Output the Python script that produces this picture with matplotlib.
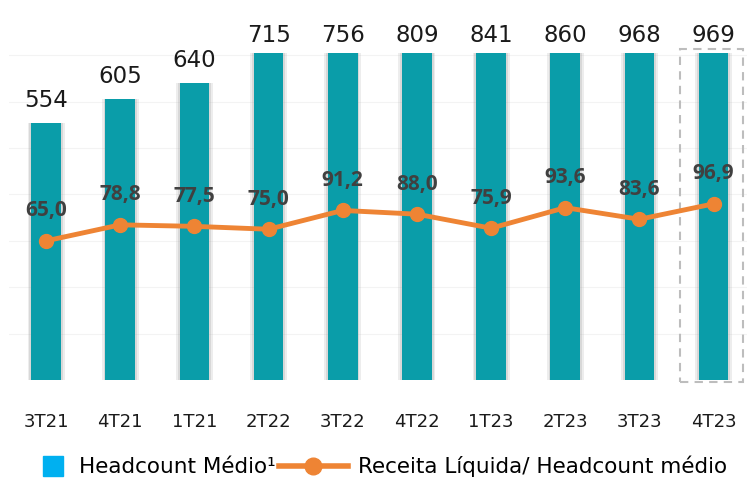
import matplotlib
matplotlib.use("Agg")
import matplotlib.pyplot as plt
from matplotlib.patches import Rectangle
from matplotlib.lines import Line2D

# dados
trimestres = ["3T21", "4T21", "1T21", "2T22", "3T22", "4T22", "1T23", "2T23", "3T23", "4T23"]
headcount = [554, 605, 640, 715, 756, 809, 841, 860, 968, 969]
receita_hc = [65.0, 78.8, 77.5, 75.0, 91.2, 88.0, 75.9, 93.6, 83.6, 96.9]

cor_barra = "#0A9DA9"
cor_linha = "#EE8434"
ymax = 705

fig = plt.figure(figsize=(7.47, 4.80), dpi=100)
ax = fig.add_axes([0.012, 0.208, 0.988, 0.682])
x = list(range(len(trimestres)))

# sombra das barras
ax.bar(x, headcount, width=0.50, color="#A0A0A0", alpha=0.18, zorder=1)
ax.bar(x, headcount, width=0.45, color="#909090", alpha=0.22, zorder=1)
ax.bar(x, headcount, width=0.40, color=cor_barra, zorder=2)
ax.set_ylim(0, ymax)
ax.set_xlim(-0.5, 9.45)
for y in range(100, 800, 100):
    ax.axhline(y, color="#F3F3F3", lw=0.8, zorder=0)

for i, v in enumerate(headcount):
    topo = min(v, ymax)
    off = 8 if v < ymax else 4
    ax.annotate(str(v), (i, topo), xytext=(0, off), textcoords="offset points",
                ha="center", va="bottom", fontsize=16.5, color="#1a1a1a", annotation_clip=False)

ax.set_xticks(x)
ax.set_xticklabels(trimestres, fontsize=13, color="#1a1a1a")
ax.tick_params(axis="x", length=0, pad=24)
ax.set_yticks([])
for s in ax.spines.values():
    s.set_visible(False)

ax2 = ax.twinx()
ax2.plot(x, receita_hc, color=cor_linha, lw=3.5, marker="o", markersize=10, zorder=5)
ax2.set_ylim(-55, 227)
ax2.set_yticks([])
for s in ax2.spines.values():
    s.set_visible(False)
for i, v in enumerate(receita_hc):
    ax2.annotate(f"{v:.1f}".replace(".", ","), (i, v), xytext=(0, 14), textcoords="offset points",
                 ha="center", va="bottom", fontsize=15, fontweight="bold", color="#404040",
                 family="Open Sans")

# destaque 4T23
ax.add_patch(Rectangle((8.55, -3), 0.85, ymax + 12, fill=False, ls=(0, (4, 3)),
                       ec="#BDBDBD", lw=1.5, clip_on=False, zorder=3))

h1 = Line2D([], [], marker="s", ls="none", color="#00B0F0", markersize=15)
h2 = Line2D([], [], color=cor_linha, lw=4, marker="o", markersize=12)
fig.legend([h1], ["Headcount Médio¹"], loc="lower left", bbox_to_anchor=(0.025, -0.035),
           frameon=False, fontsize=15.5, handlelength=1.4, handletextpad=0.5)
fig.legend([h2], ["Receita Líquida/ Headcount médio"], loc="lower right",
           bbox_to_anchor=(1.0, -0.035), frameon=False, fontsize=15.5,
           handlelength=3.2, handletextpad=0.5)

plt.savefig("out.png", dpi=100)
